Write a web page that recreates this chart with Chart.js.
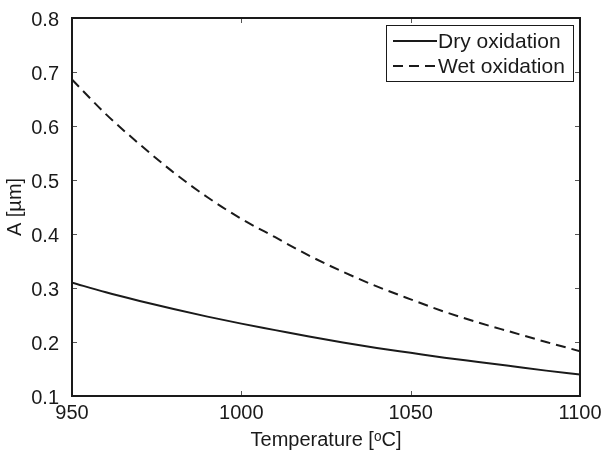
<!DOCTYPE html>
<html>
<head>
<meta charset="utf-8">
<script src="https://cdn.jsdelivr.net/npm/chart.js@4.4.0/dist/chart.umd.min.js"></script>
<style>
  html, body { margin: 0; padding: 0; background: #fff; }
</style>
</head>
<body>
<canvas id="oxChart" width="606" height="453"></canvas>
<script>
// Temperature [°C]
const temps = [950, 960, 970, 980, 990, 1000, 1010, 1020, 1030, 1040, 1050, 1060, 1070, 1080, 1090, 1100];
// A [um]
const dryA = [0.310, 0.292, 0.276, 0.261, 0.247, 0.234, 0.222, 0.210, 0.199, 0.189, 0.180, 0.171, 0.163, 0.155, 0.147, 0.140];
const wetA = [0.686, 0.622, 0.566, 0.514, 0.468, 0.428, 0.394, 0.360, 0.330, 0.303, 0.279, 0.256, 0.236, 0.218, 0.200, 0.183];
const xTicks = [950, 1000, 1050, 1100];
const yTicks = [0.1, 0.2, 0.3, 0.4, 0.5, 0.6, 0.7, 0.8];

const FONT = '"Liberation Sans", Arial, Helvetica, sans-serif';
const INK = '#1a1a1a';

// matlab style box with inward ticks on all four sides
const boxTicks = {
    id: 'boxTicks',
    afterDraw(chart) {
        const {ctx, chartArea: a, scales: {x, y}} = chart;
        ctx.save();
        ctx.strokeStyle = '#555';
        ctx.lineWidth = 1;
        ctx.beginPath();
        x.ticks.forEach(t => {
            const px = Math.round(x.getPixelForValue(t.value)) + 0.5;
            ctx.moveTo(px, a.bottom); ctx.lineTo(px, a.bottom - 5);
            ctx.moveTo(px, a.top); ctx.lineTo(px, a.top + 5);
        });
        y.ticks.forEach(t => {
            const py = Math.round(y.getPixelForValue(t.value)) + 0.5;
            ctx.moveTo(a.left, py); ctx.lineTo(a.left + 5, py);
            ctx.moveTo(a.right, py); ctx.lineTo(a.right - 5, py);
        });
        ctx.stroke();
        ctx.strokeStyle = INK;
        ctx.lineWidth = 2;
        ctx.strokeRect(a.left, a.top, a.right - a.left, a.bottom - a.top);
        ctx.restore();
    }
};

// boxed legend in the upper right corner
const boxLegend = {
    id: 'boxLegend',
    afterDraw(chart, args, opts) {
        const ctx = chart.ctx;
        ctx.save();
        ctx.fillStyle = '#fff';
        ctx.fillRect(opts.x, opts.y, opts.w, opts.h);
        ctx.strokeStyle = INK;
        ctx.lineWidth = 1;
        ctx.strokeRect(opts.x + 0.5, opts.y + 0.5, opts.w, opts.h);
        ctx.font = opts.fontSize + 'px ' + FONT;
        ctx.textBaseline = 'middle';
        chart.data.datasets.forEach((ds, i) => {
            const ry = opts.y + opts.firstRow + i * opts.rowH;
            ctx.strokeStyle = ds.borderColor;
            ctx.lineWidth = ds.borderWidth;
            ctx.setLineDash(ds.borderDash || []);
            ctx.beginPath();
            ctx.moveTo(opts.x + 7, ry);
            ctx.lineTo(opts.x + 7 + opts.lineLen, ry);
            ctx.stroke();
            ctx.fillStyle = INK;
            ctx.fillText(ds.label, opts.x + 8 + opts.lineLen, ry + 1);
        });
        ctx.restore();
    }
};

const ctx = document.getElementById('oxChart').getContext('2d');
const oxChart = new Chart(ctx, {
    type: 'line',
    data: {
        datasets: [{
            label: 'Dry oxidation',
            data: temps.map((t, i) => ({x: t, y: dryA[i]})),
            borderColor: INK,
            borderWidth: 2,
            pointRadius: 0,
            cubicInterpolationMode: 'monotone'
        }, {
            label: 'Wet oxidation',
            data: temps.map((t, i) => ({x: t, y: wetA[i]})),
            borderColor: INK,
            borderWidth: 2,
            borderDash: [10, 6],
            pointRadius: 0,
            cubicInterpolationMode: 'monotone'
        }]
    },
    options: {
        responsive: false,
        animation: false,
        layout: {padding: {top: 18, right: 26, left: 0, bottom: 0}},
        scales: {
            x: {
                type: 'linear',
                min: 950,
                max: 1100,
                afterBuildTicks: s => { s.ticks = xTicks.map(v => ({value: v})); },
                afterFit: s => { s.height = 57; },
                grid: {display: false},
                border: {display: false},
                ticks: {
                    color: INK,
                    padding: -3,
                    maxRotation: 0,
                    font: {family: FONT, size: 20},
                    callback: v => String(v)
                },
                title: {
                    display: true,
                    text: 'Temperature [\u1D52C]',
                    color: INK,
                    padding: {top: 0, bottom: 3},
                    font: {family: FONT, size: 20, lineHeight: 1}
                }
            },
            y: {
                min: 0.1,
                max: 0.8,
                afterBuildTicks: s => { s.ticks = yTicks.map(v => ({value: v})); },
                afterFit: s => { s.width = 72; },
                grid: {display: false},
                border: {display: false},
                ticks: {
                    color: INK,
                    padding: 5,
                    labelOffset: 2,
                    font: {family: FONT, size: 20},
                    callback: v => v.toFixed(1)
                },
                title: {
                    display: true,
                    text: 'A [\u00B5m]',
                    color: INK,
                    padding: {top: 5, bottom: 0},
                    font: {family: FONT, size: 20, lineHeight: 1}
                }
            }
        },
        plugins: {
            legend: {display: false},
            tooltip: {enabled: false},
            boxLegend: {x: 386, y: 25, w: 187, h: 56, firstRow: 16, rowH: 25, lineLen: 44, fontSize: 21}
        }
    },
    plugins: [boxTicks, boxLegend]
});
</script>
</body>
</html>
